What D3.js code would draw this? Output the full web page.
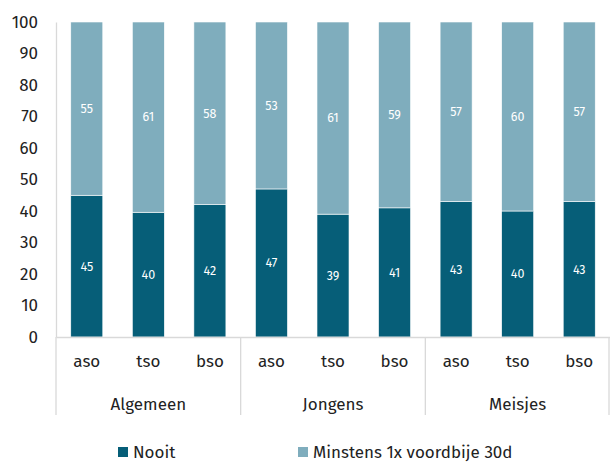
<!DOCTYPE html>
<html>
<head>
<meta charset="utf-8">
<script src="https://cdn.jsdelivr.net/npm/d3@7"></script>
<style>
  body { margin: 0; background: #fff; }
  text { font-family: "Fira Sans", "Open Sans", "Noto Sans", sans-serif; }
</style>
</head>
<body>
<div id="chart"></div>
<script>
// Data
const groups = ["Algemeen", "Jongens", "Meisjes"];
const types = ["aso", "tso", "bso"];
const nooit = [45, 40, 42, 47, 39, 41, 43, 40, 43];
const minstens = [55, 61, 58, 53, 61, 59, 57, 60, 57];
const seriesNames = ["Nooit", "Minstens 1x voordbije 30d"];
const yTicks = [0, 10, 20, 30, 40, 50, 60, 70, 80, 90, 100];

const colors = ["#065e78", "#7fadbd"];

const rows = nooit.map((v, i) => ({
  id: i,
  group: groups[Math.floor(i / 3)],
  type: types[i % 3],
  Nooit: v,
  Minstens: minstens[i]
}));

// Dimensions
const dimensions = {
  width: 610,
  height: 462,
  margin: { top: 22, right: 0, bottom: 125, left: 56 }
};
dimensions.containerWidth = dimensions.width - dimensions.margin.left - dimensions.margin.right;
dimensions.containerHeight = dimensions.height - dimensions.margin.top - dimensions.margin.bottom;

const svg = d3.select("#chart")
  .append("svg")
  .attr("width", dimensions.width)
  .attr("height", dimensions.height);

const container = svg.append("g")
  .attr("transform", `translate(${dimensions.margin.left}, ${dimensions.margin.top})`);

// Scales
const xScale = d3.scaleBand()
  .domain(rows.map(d => d.id))
  .range([0, dimensions.containerWidth])
  .paddingInner(0.48)
  .paddingOuter(0.24);

const yScale = d3.scaleLinear()
  .domain([0, 100])
  .range([dimensions.containerHeight, 0]);

const stack = d3.stack()
  .keys(["Nooit", "Minstens"])
  .offset(d3.stackOffsetExpand);
const stacked = stack(rows);

// Y axis
const yAxis = d3.axisLeft(yScale).tickValues(yTicks).tickSize(0).tickPadding(18);
const yAxisGroup = container.append("g").call(yAxis);
yAxisGroup.select(".domain").attr("stroke", "#d9d9d9").attr("stroke-width", 1.3);
yAxisGroup.selectAll("text")
  .style("font-size", "17px")
  .attr("fill", "#222");

// Bars
const layers = container.selectAll("g.layer")
  .data(stacked)
  .join("g")
  .attr("class", "layer")
  .attr("fill", (d, i) => colors[i]);

layers.selectAll("rect")
  .data(d => d)
  .join("rect")
  .attr("x", d => xScale(d.data.id))
  .attr("width", xScale.bandwidth())
  .attr("y", d => yScale(d[1] * 100))
  .attr("height", d => yScale(d[0] * 100) - yScale(d[1] * 100))
  .attr("stroke", "#ffffff")
  .attr("stroke-width", 0.6);

layers.selectAll("text")
  .data(d => d.map(p => ({ p, key: d.key })))
  .join("text")
  .attr("x", d => xScale(d.p.data.id) + xScale.bandwidth() / 2)
  .attr("y", d => yScale((d.p[0] + d.p[1]) * 50))
  .attr("dy", "0.35em")
  .attr("text-anchor", "middle")
  .attr("fill", "#fff")
  .style("font-size", "12.5px")
  .text(d => d.p.data[d.key]);

// X axis (multi-level)
const xAxis = d3.axisBottom(xScale).tickSize(0).tickPadding(18)
  .tickFormat(i => rows[i].type);
const xAxisGroup = container.append("g")
  .attr("transform", `translate(0, ${dimensions.containerHeight})`)
  .call(xAxis);
xAxisGroup.select(".domain").attr("stroke", "#d9d9d9").attr("stroke-width", 1.3);
xAxisGroup.selectAll("text")
  .style("font-size", "17px")
  .attr("fill", "#222");

const groupWidth = dimensions.containerWidth / groups.length;
const sepHeight = 78;
container.append("g")
  .selectAll("line")
  .data(d3.range(groups.length + 1))
  .join("line")
  .attr("x1", i => Math.min(i * groupWidth, dimensions.containerWidth - 1))
  .attr("x2", i => Math.min(i * groupWidth, dimensions.containerWidth - 1))
  .attr("y1", dimensions.containerHeight)
  .attr("y2", dimensions.containerHeight + sepHeight)
  .attr("stroke", "#d9d9d9")
  .attr("stroke-width", 1.3);

container.append("g")
  .selectAll("text")
  .data(groups)
  .join("text")
  .attr("x", (d, i) => (i + 0.5) * groupWidth)
  .attr("y", dimensions.containerHeight + 73)
  .attr("text-anchor", "middle")
  .attr("fill", "#222")
  .style("font-size", "17px")
  .text(d => d);

// Legend
const legendX = [118, 298];
const legend = svg.append("g")
  .selectAll("g")
  .data(seriesNames)
  .join("g")
  .attr("transform", (d, i) => `translate(${legendX[i]}, 447)`);
legend.append("rect")
  .attr("width", 10)
  .attr("height", 10)
  .attr("fill", (d, i) => colors[i]);
legend.append("text")
  .attr("x", 15)
  .attr("y", 11)
  .attr("fill", "#222")
  .style("font-size", "17px")
  .text(d => d);
</script>
</body>
</html>
